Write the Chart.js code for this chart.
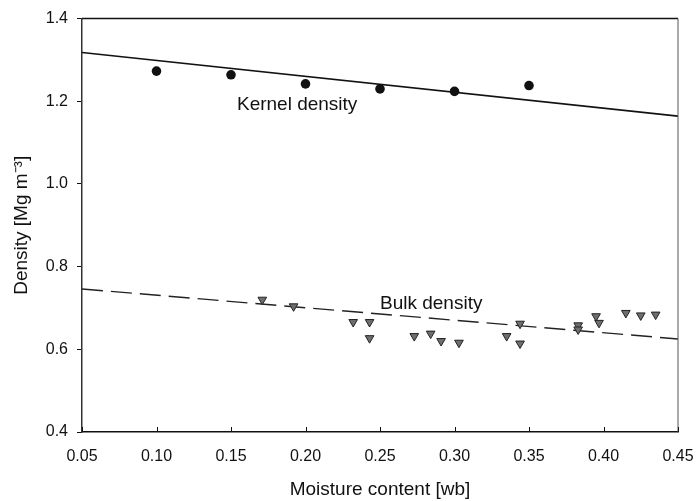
<!DOCTYPE html>
<html>
<head>
<meta charset="utf-8">
<title>Density vs moisture content</title>
<script src="https://cdn.jsdelivr.net/npm/chart.js@4.4.1/dist/chart.umd.min.js"></script>
<style>
    html, body { margin: 0; padding: 0; background: #fff; }
    #wrap { width: 696px; height: 501px; }
</style>
</head>
<body>
<div id="wrap"><canvas id="densityChart" width="696" height="501"></canvas></div>
<script>
// ==========================================
// DATA
// ==========================================

// Kernel density measurements
const kernelX = [0.10, 0.15, 0.20, 0.25, 0.30, 0.35];
const kernelY = [1.273, 1.264, 1.242, 1.230, 1.224, 1.238];

// Bulk density measurements
const bulkX = [0.171, 0.192, 0.232, 0.243, 0.243, 0.273, 0.284, 0.291, 0.303, 0.335,
               0.344, 0.344, 0.383, 0.383, 0.395, 0.397, 0.415, 0.425, 0.435];
const bulkY = [0.720, 0.704, 0.666, 0.666, 0.627, 0.632, 0.638, 0.620, 0.616, 0.632,
               0.662, 0.614, 0.658, 0.648, 0.680, 0.664, 0.688, 0.682, 0.684];

// Fitted lines (end points over the axis range)
const fitX = [0.05, 0.45];
const kernelFitY = [1.318, 1.164];
const bulkFitY = [0.746, 0.625];

// Axis ticks
const xTicks = [0.05, 0.10, 0.15, 0.20, 0.25, 0.30, 0.35, 0.40, 0.45];
const yTicks = [0.4, 0.6, 0.8, 1.0, 1.2, 1.4];

// Curve labels: [text, x, y] in data units
const curveLabels = [
    ['Kernel density', 0.154, 1.191],
    ['Bulk density', 0.250, 0.711]
];

const FONT = '"Liberation Sans", Arial, Helvetica, sans-serif';

function toPoints(xs, ys) {
    return xs.map((x, i) => ({ x: x, y: ys[i] }));
}

// ==========================================
// PLUGINS
// ==========================================

// frame on top/right plus inward ticks on the x axis
const framePlugin = {
    id: 'frame',
    afterDraw(chart) {
        const { ctx, chartArea: a, scales } = chart;
        ctx.save();
        ctx.strokeStyle = '#111';
        ctx.lineWidth = 1.5;
        ctx.beginPath();
        ctx.moveTo(a.left, a.top);
        ctx.lineTo(a.right, a.top);
        ctx.stroke();
        ctx.strokeStyle = '#555';
        ctx.lineWidth = 1;
        ctx.beginPath();
        ctx.moveTo(a.right, a.top);
        ctx.lineTo(a.right, a.bottom);
        ctx.stroke();

        ctx.strokeStyle = '#111';
        ctx.lineWidth = 1;
        xTicks.forEach(v => {
            const px = Math.round(scales.x.getPixelForValue(v)) + 0.5;
            ctx.beginPath();
            ctx.moveTo(px, a.bottom);
            ctx.lineTo(px, a.bottom - 5);
            ctx.stroke();
        });
        ctx.restore();
    }
};

// text labels next to each curve
const curveLabelPlugin = {
    id: 'curveLabels',
    afterDatasetsDraw(chart) {
        const { ctx, scales } = chart;
        ctx.save();
        ctx.fillStyle = '#111';
        ctx.font = '19px ' + FONT;
        ctx.textAlign = 'left';
        ctx.textBaseline = 'middle';
        curveLabels.forEach(([text, x, y]) => {
            ctx.fillText(text, scales.x.getPixelForValue(x), scales.y.getPixelForValue(y));
        });
        ctx.restore();
    }
};

// ==========================================
// CHART
// ==========================================

function initDensityChart() {
    const ctx = document.getElementById('densityChart');

    new Chart(ctx, {
        type: 'scatter',
        data: {
            datasets: [
                {
                    label: 'Kernel fit',
                    data: toPoints(fitX, kernelFitY),
                    showLine: true,
                    borderColor: '#111',
                    borderWidth: 1.6,
                    pointRadius: 0,
                    order: 3
                },
                {
                    label: 'Bulk fit',
                    data: toPoints(fitX, bulkFitY),
                    showLine: true,
                    borderColor: '#222',
                    borderWidth: 1.4,
                    borderDash: [21, 8],
                    pointRadius: 0,
                    order: 4
                },
                {
                    label: 'Kernel density',
                    data: toPoints(kernelX, kernelY),
                    pointStyle: 'circle',
                    pointRadius: 4.8,
                    backgroundColor: '#111',
                    borderColor: '#111',
                    borderWidth: 0,
                    order: 1
                },
                {
                    label: 'Bulk density',
                    data: toPoints(bulkX, bulkY),
                    pointStyle: 'triangle',
                    rotation: 180,
                    pointRadius: 5,
                    backgroundColor: '#6e6e6e',
                    borderColor: '#222',
                    borderWidth: 1,
                    order: 2
                }
            ]
        },
        options: {
            responsive: false,
            animation: false,
            layout: { padding: { top: 15, right: 18, left: 0, bottom: 0 } },
            plugins: {
                legend: { display: false },
                tooltip: { enabled: false }
            },
            scales: {
                x: {
                    type: 'linear',
                    min: 0.05,
                    max: 0.45,
                    afterBuildTicks: scale => { scale.ticks = xTicks.map(v => ({ value: v })); },
                    afterFit: scale => { scale.height = 69; },
                    // outward tick space kept but left invisible; inward ticks come from the frame plugin
                    grid: {
                        drawOnChartArea: false,
                        drawTicks: true,
                        tickLength: 13,
                        color: 'rgba(0,0,0,0)'
                    },
                    border: { display: true, color: '#111', width: 1.5 },
                    ticks: {
                        padding: 2,
                        color: '#111',
                        font: { family: FONT, size: 16 },
                        callback: v => v.toFixed(2)
                    },
                    title: {
                        display: true,
                        text: 'Moisture content [wb]',
                        color: '#111',
                        font: { family: FONT, size: 19 },
                        padding: { top: 0, bottom: 0 }
                    }
                },
                y: {
                    type: 'linear',
                    min: 0.4,
                    max: 1.4,
                    afterBuildTicks: scale => { scale.ticks = yTicks.map(v => ({ value: v })); },
                    afterFit: scale => { scale.width = 82; },
                    grid: {
                        drawOnChartArea: false,
                        drawTicks: true,
                        tickLength: 5,
                        color: '#111'
                    },
                    border: { display: true, color: '#333', width: 1.5 },
                    ticks: {
                        padding: 9,
                        color: '#111',
                        font: { family: FONT, size: 16 },
                        callback: v => v.toFixed(1)
                    },
                    title: {
                        display: true,
                        text: 'Density [Mg m\u207B\u00B3]',
                        color: '#111',
                        font: { family: FONT, size: 19 },
                        padding: { top: 10, bottom: 0 }
                    }
                }
            }
        },
        plugins: [framePlugin, curveLabelPlugin]
    });
}

document.addEventListener('DOMContentLoaded', initDensityChart);
</script>
</body>
</html>
